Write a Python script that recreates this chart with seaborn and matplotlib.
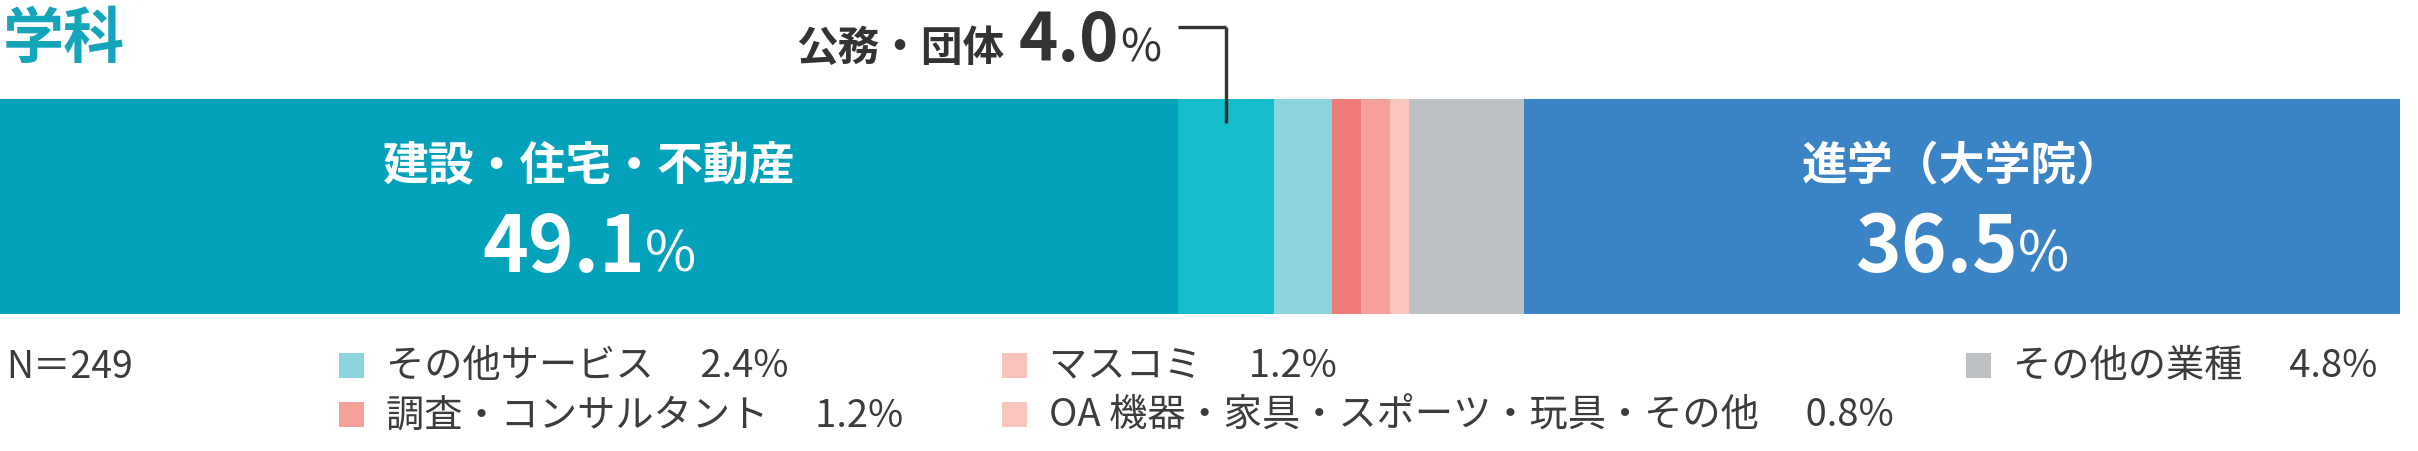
import matplotlib

matplotlib.use("Agg")
import matplotlib.pyplot as plt
import numpy as np
import pandas as pd
import seaborn as sns
from matplotlib.patches import Rectangle
from matplotlib.transforms import offset_copy

# データ
categories = [
    "建設・住宅・不動産",
    "公務・団体",
    "その他サービス",
    "マスコミ",
    "調査・コンサルタント",
    "OA 機器・家具・スポーツ・玩具・その他",
    "その他の業種",
    "進学（大学院）",
]
values = [49.1, 4.0, 2.4, 1.2, 1.2, 0.8, 4.8, 36.5]
bar_colors = [
    "#03a2ba",
    "#16bdcb",
    "#8dd5de",
    "#f07c78",
    "#f5a199",
    "#f8c6bd",
    "#bdc1c4",
    "#3a84c5",
]
legend_colors = ["#8dd5de", "#f8c3bb", "#f5a199", "#f8c6bd", "#bdc1c4"]
n_total = 249

sns.set_theme(style="white")
plt.rcParams["font.family"] = ["Noto Sans CJK JP", "DejaVu Sans"]

W, H = 2418, 452
fig = plt.figure(figsize=(W / 100, H / 100), dpi=100)
fig.patch.set_facecolor("white")


def fx(px):
    return px / W


def fy(py):
    return 1 - py / H


ax = fig.add_axes([0, fy(315), 2400 / W, 215 / H])

df = pd.DataFrame({"category": categories, "value": values})
df["end"] = np.cumsum(df["value"])
df["mid"] = df["end"] - df["value"] / 2

# 積み上げ横棒（終端の大きい順に重ねる）
for i in reversed(range(len(df))):
    sns.barplot(
        x=[df["end"][i]],
        y=["学科"],
        orient="h",
        color=bar_colors[i],
        saturation=1,
        width=1.0,
        linewidth=0,
        errorbar=None,
        ax=ax,
    )
ax.set_xlim(0, 100)
ax.set_ylim(0.5, -0.5)
ax.axis("off")

renderer = fig.canvas.get_renderer()
dark = "#333333"


def row_text(x, y, pieces, color, ha="center"):
    # pieces: (text, size, weight, gap_after_px)
    trans = ax.transData
    texts, widths = [], []
    for s, size, weight, gap in pieces:
        t = ax.text(
            x, y, s, fontsize=size, fontweight=weight, color=color,
            transform=trans, ha="left", va="baseline", clip_on=False,
        )
        texts.append(t)
        widths.append(t.get_window_extent(renderer).width + gap)
    total = sum(widths) - pieces[-1][3]
    start = -total / 2 if ha == "center" else -total
    for t, w in zip(texts, widths):
        t.set_transform(offset_copy(trans, fig=fig, x=start, y=0, units="dots"))
        start += w


# 大きいラベル（棒の中）
for idx in [0, 7]:
    ax.text(
        df["mid"][idx], -0.19, df["category"][idx], fontsize=33, fontweight="bold",
        color="white", ha="center", va="center",
    )
    row_text(
        df["mid"][idx], 0.3,
        [(f"{df['value'][idx]:.1f}", 56, "bold", 0), ("%", 40, "normal", 0)],
        "white",
    )

# 公務・団体 の注記
xc = df["mid"][1]
ax.plot([xc, xc], [-0.39, -0.835], color=dark, lw=2.4, clip_on=False,
        solid_capstyle="butt")
ax.plot([xc - 2.0, xc], [-0.835, -0.835], color=dark, lw=2.4, clip_on=False,
        solid_capstyle="butt")
row_text(
    xc - 2.7, -0.68,
    [(df["category"][1], 30, "bold", 14), (f"{df['value'][1]:.1f}", 48, "bold", 2),
     ("%", 32, "normal", 0)],
    dark,
    ha="right",
)

# タイトル
fig.text(fx(3), fy(40), "学科", fontsize=44, fontweight="bold", color="#14a5bb",
         ha="left", va="center")

# 凡例
fig.text(fx(6), fy(368), f"N＝{n_total}", fontsize=27, color="#3c3c3c",
         ha="left", va="center")
legend_pos = [(339, 367), (1002, 367), (339, 416), (1002, 416), (1966, 367)]
for k, idx in enumerate(range(2, 7)):
    sx, sy = legend_pos[k]
    fig.patches.append(
        Rectangle((fx(sx), fy(sy + 12)), 25 / W, 25 / H, transform=fig.transFigure,
                  facecolor=legend_colors[k], edgecolor="none")
    )
    fig.text(fx(sx + 47), fy(sy), f"{df['category'][idx]}　 {df['value'][idx]:.1f}%",
             fontsize=27.5, color="#3c3c3c", ha="left", va="center")

fig.savefig("out.png", dpi=100, facecolor="white")
